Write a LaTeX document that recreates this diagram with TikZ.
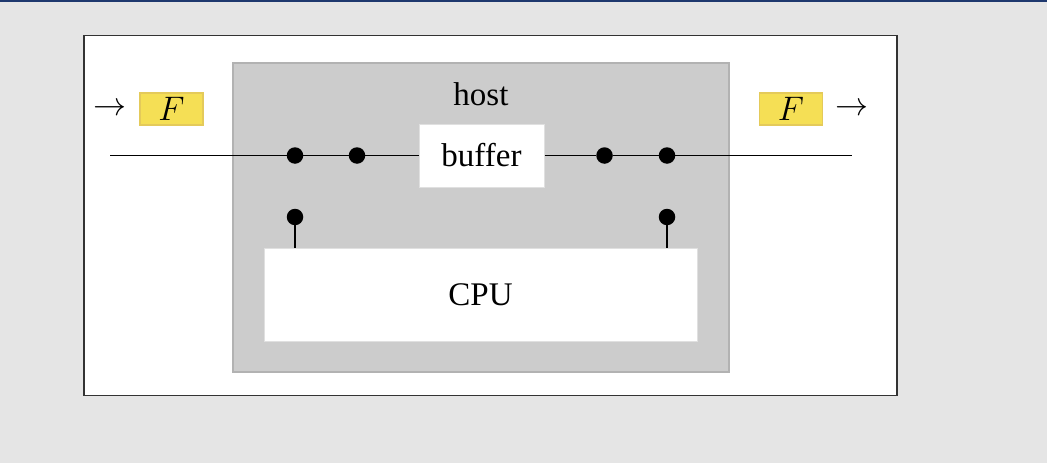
\RequirePackage{fix-cm}
\documentclass[tikz,border=0pt]{standalone}
\usepackage{fontspec}
\setmainfont{Liberation Serif}
\begin{document}
\begin{tikzpicture}[x=1pt,y=-1pt,
  dotnode/.style={circle,fill=black,inner sep=0pt,minimum size=16.5pt},
  whitebox/.style={draw=black!12,fill=white,line width=1pt,inner sep=0pt},
  fbox/.style={draw=fyellowd,fill=fyellow,line width=1.2pt,inner sep=0pt,minimum width=63pt,minimum height=32pt},
  bigtext/.style={font=\fontsize{33}{40}\selectfont},
  wire/.style={line width=1.2pt,black}]
\definecolor{fyellow}{RGB}{245,223,85}
\definecolor{fyellowd}{RGB}{228,202,90}
\definecolor{bgc}{RGB}{229,229,229}
\definecolor{topblue}{RGB}{30,56,110}
\useasboundingbox (0,0) rectangle (1047,463);
\fill[bgc] (0,0) rectangle (1047,463);
\fill[topblue] (0,0) rectangle (1047,2.2);
\draw[fill=white,line width=1.2pt,draw=black!80] (84,35.5) rectangle (897,395.5);
% host
\node[draw=black!30,fill=black!20,line width=1.5pt,minimum width=496pt,minimum height=309pt,inner sep=0pt] (host) at (481,217.5) {};
\node[bigtext] (hostlabel) at (481,94) {host};
\node[whitebox,minimum width=125pt,minimum height=63pt,bigtext] (buffer) at (481.5,155.5) {buffer};
\node[whitebox,minimum width=433pt,minimum height=93pt,bigtext] (cpu) at (480.5,294.5) {CPU};
% flags
\node[fbox,font=\fontsize{34}{40}\selectfont] (fl) at (171.5,109) {$F$};
\node[fbox,font=\fontsize{34}{40}\selectfont] (fr) at (791,109) {$F$};
\node[font=\fontsize{33}{38}\selectfont] (al) at (110,109.5) {$\rightarrow$};
\node[font=\fontsize{33}{38}\selectfont] (ar) at (852,109.5) {$\rightarrow$};
% dots
\coordinate (lin) at (110,155.5);
\coordinate (rout) at (852,155.5);
\node[dotnode] (d1) at (295,155.5) {};
\node[dotnode] (d2) at (357,155.5) {};
\node[dotnode] (d3) at (604.5,155.5) {};
\node[dotnode] (d4) at (667,155.5) {};
\node[dotnode] (d5) at (295,217) {};
\node[dotnode] (d6) at (667,217) {};
\draw[wire] (lin) -- (d1) -- (d2) -- (buffer.west);
\draw[wire] (buffer.east) -- (d3) -- (d4) -- (rout);
\draw[wire] (d5) -- (d5 |- cpu.north);
\draw[wire] (d6) -- (d6 |- cpu.north);
\end{tikzpicture}
\end{document}
